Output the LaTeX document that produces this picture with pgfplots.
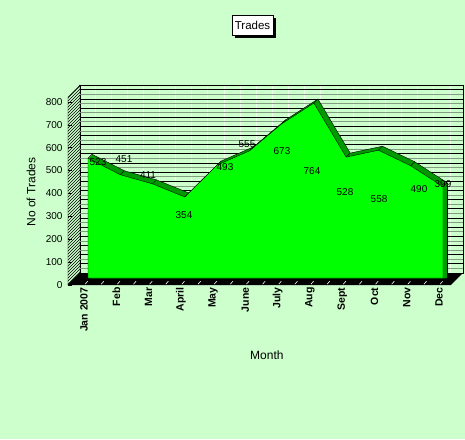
\documentclass[border=0pt]{standalone}
\usepackage{fontspec}
\setmainfont{Liberation Sans}
\usepackage{pgfplots}
\pgfplotsset{compat=1.18}
\usepackage{pgfplotstable}
\usetikzlibrary{patterns,shadows}
\definecolor{bg}{HTML}{CCFFCC}
\definecolor{areag}{HTML}{00FF00}
\definecolor{topg}{HTML}{009900}
\definecolor{gridgray}{HTML}{7F9F7F}

\pgfplotstableread{
x y
0 523
1 451
2 411
3 354
4 493
5 555
6 673
7 764
8 528
9 558
10 490
11 399
}\trades

\pgfplotstableread{
x y v
0.31 506.6 523
1.116 519.7 451
1.859 449.8 411
2.975 275.1 354
4.245 484.7 493
4.927 585.2 555
6.012 554.6 673
6.941 467.2 764
7.964 375.5 528
9.018 345.0 558
10.257 388.6 490
11.0 410.5 399
}\tradelabels

\begin{document}
\begin{tikzpicture}
\fill[bg] (0,0) rectangle (465pt,439pt);
\begin{axis}[
  at={(88pt,161pt)}, anchor=south west,
  scale only axis, width=355pt, height=187.78pt,
  xmin=0, xmax=11, ymin=0, ymax=820,
  enlargelimits=false, clip=false,
  axis line style={draw=none},
  major tick length=0pt,
  xtick={0,...,11},
  xticklabels={Jan 2007,Feb,Mar,April,May,June,July,Aug,Sept,Oct,Nov,Dec},
  xticklabel style={xshift=-4pt, yshift=-6pt, rotate=90, anchor=east, font=\fontsize{10.5}{12}\selectfont\bfseries},
  ytick={0,100,...,800},
  yticklabel style={xshift=-22pt, yshift=-7pt, font=\fontsize{10}{12}\selectfont},
  /pgf/number format/assume math mode=true,
  title=Trades,
  title style={at={(axis description cs:0.4634,1.3154)}, anchor=center, yshift=0pt,
    draw=black, fill=white, font=\fontsize{11.5}{13}\selectfont, inner xsep=3pt, minimum height=20pt,
    drop shadow={shadow xshift=3pt, shadow yshift=-3pt, fill=black, opacity=1}},
  xlabel=Month,
  xlabel style={at={(axis description cs:0.504,-0.41)}, anchor=center, yshift=0pt, font=\fontsize{12}{14}\selectfont},
  ylabel={No of Trades},
  ylabel style={at={(axis description cs:-0.1606,0.458)}, anchor=center, rotate=0, font=\fontsize{12}{14}\selectfont},
]
% back wall
\draw[draw=black, fill=bg, thin] (axis cs:-0.248,21.8) rectangle (axis cs:11.617,842.8);
\pgfplotsinvokeforeach{0,...,23}{
  \draw[white, line width=1pt, opacity=0.8] (axis cs:{0.5*#1+0.217},21.8) -- (axis cs:{0.5*#1+0.217},842.8);
}
\pgfplotsinvokeforeach{0,...,20}{
  \draw[gridgray, line width=0.9pt] (axis cs:-0.248,{40*#1+41.8}) -- (axis cs:11.617,{40*#1+41.8});
}
\pgfplotsinvokeforeach{1,...,20}{
  \draw[black, line width=0.9pt] (axis cs:-0.248,{40*#1+21.8}) -- (axis cs:11.617,{40*#1+21.8});
}
\draw[black, thin] (axis cs:-0.248,842.8) -- (axis cs:11.617,842.8);
% left wall
\draw[draw=black, thin, preaction={fill=bg}, pattern=north east lines]
  (axis cs:-0.62,-30.57) -- (axis cs:-0.62,789.4) -- (axis cs:-0.248,842.8) -- (axis cs:-0.248,21.8) -- cycle;
\pgfplotsinvokeforeach{0,...,8}{
  \draw[black, thin] (axis cs:-0.62,{100*#1-30.57}) -- (axis cs:-0.50,{100*#1-30.57});
}
% floor
\fill[black] (axis cs:-0.62,-30.57) -- (axis cs:11.245,-30.57) -- (axis cs:11.617,21.8) -- (axis cs:-0.248,21.8) -- cycle;
\pgfplotsinvokeforeach{0,...,22}{
  \draw[white, line width=0.6pt] (axis cs:{0.5*#1-0.09},-27) -- (axis cs:{0.5*#1-0.01},-14);
}
% area depth (top and side faces)
\addplot[fill=topg, draw=none, x filter/.expression={x+0.031}, y filter/.expression={y+4.37}] table[x=x,y=y]{\trades} \closedcycle;
\addplot[fill=topg, draw=none, x filter/.expression={x+0.062}, y filter/.expression={y+8.73}] table[x=x,y=y]{\trades} \closedcycle;
\addplot[fill=topg, draw=none, x filter/.expression={x+0.093}, y filter/.expression={y+13.1}] table[x=x,y=y]{\trades} \closedcycle;
\addplot[fill=topg, draw=none, x filter/.expression={x+0.124}, y filter/.expression={y+17.47}] table[x=x,y=y]{\trades} \closedcycle;
\addplot[black, thin, x filter/.expression={x+0.124}, y filter/.expression={y+17.47}] table[x=x,y=y]{\trades};
\addplot[black, thin, quiver={u=0.124, v=17.47}] table[x=x,y=y]{\trades};
\addplot[black, thin] coordinates {(11.124,416.47) (11.124,17.47)};
% front face
\addplot[fill=areag, draw=black, thin] table[x=x,y=y]{\trades} \closedcycle;
% data labels
\addplot[draw=none, mark=none, nodes near coords, point meta=explicit symbolic,
  nodes near coords style={anchor=center, inner sep=0pt, font=\fontsize{10}{12}\selectfont, text=black}]
  table[x=x,y=y,meta=v]{\tradelabels};
\end{axis}
\pgfresetboundingbox
\path[use as bounding box] (0,0) rectangle (465pt,439pt);
\end{tikzpicture}
\end{document}
